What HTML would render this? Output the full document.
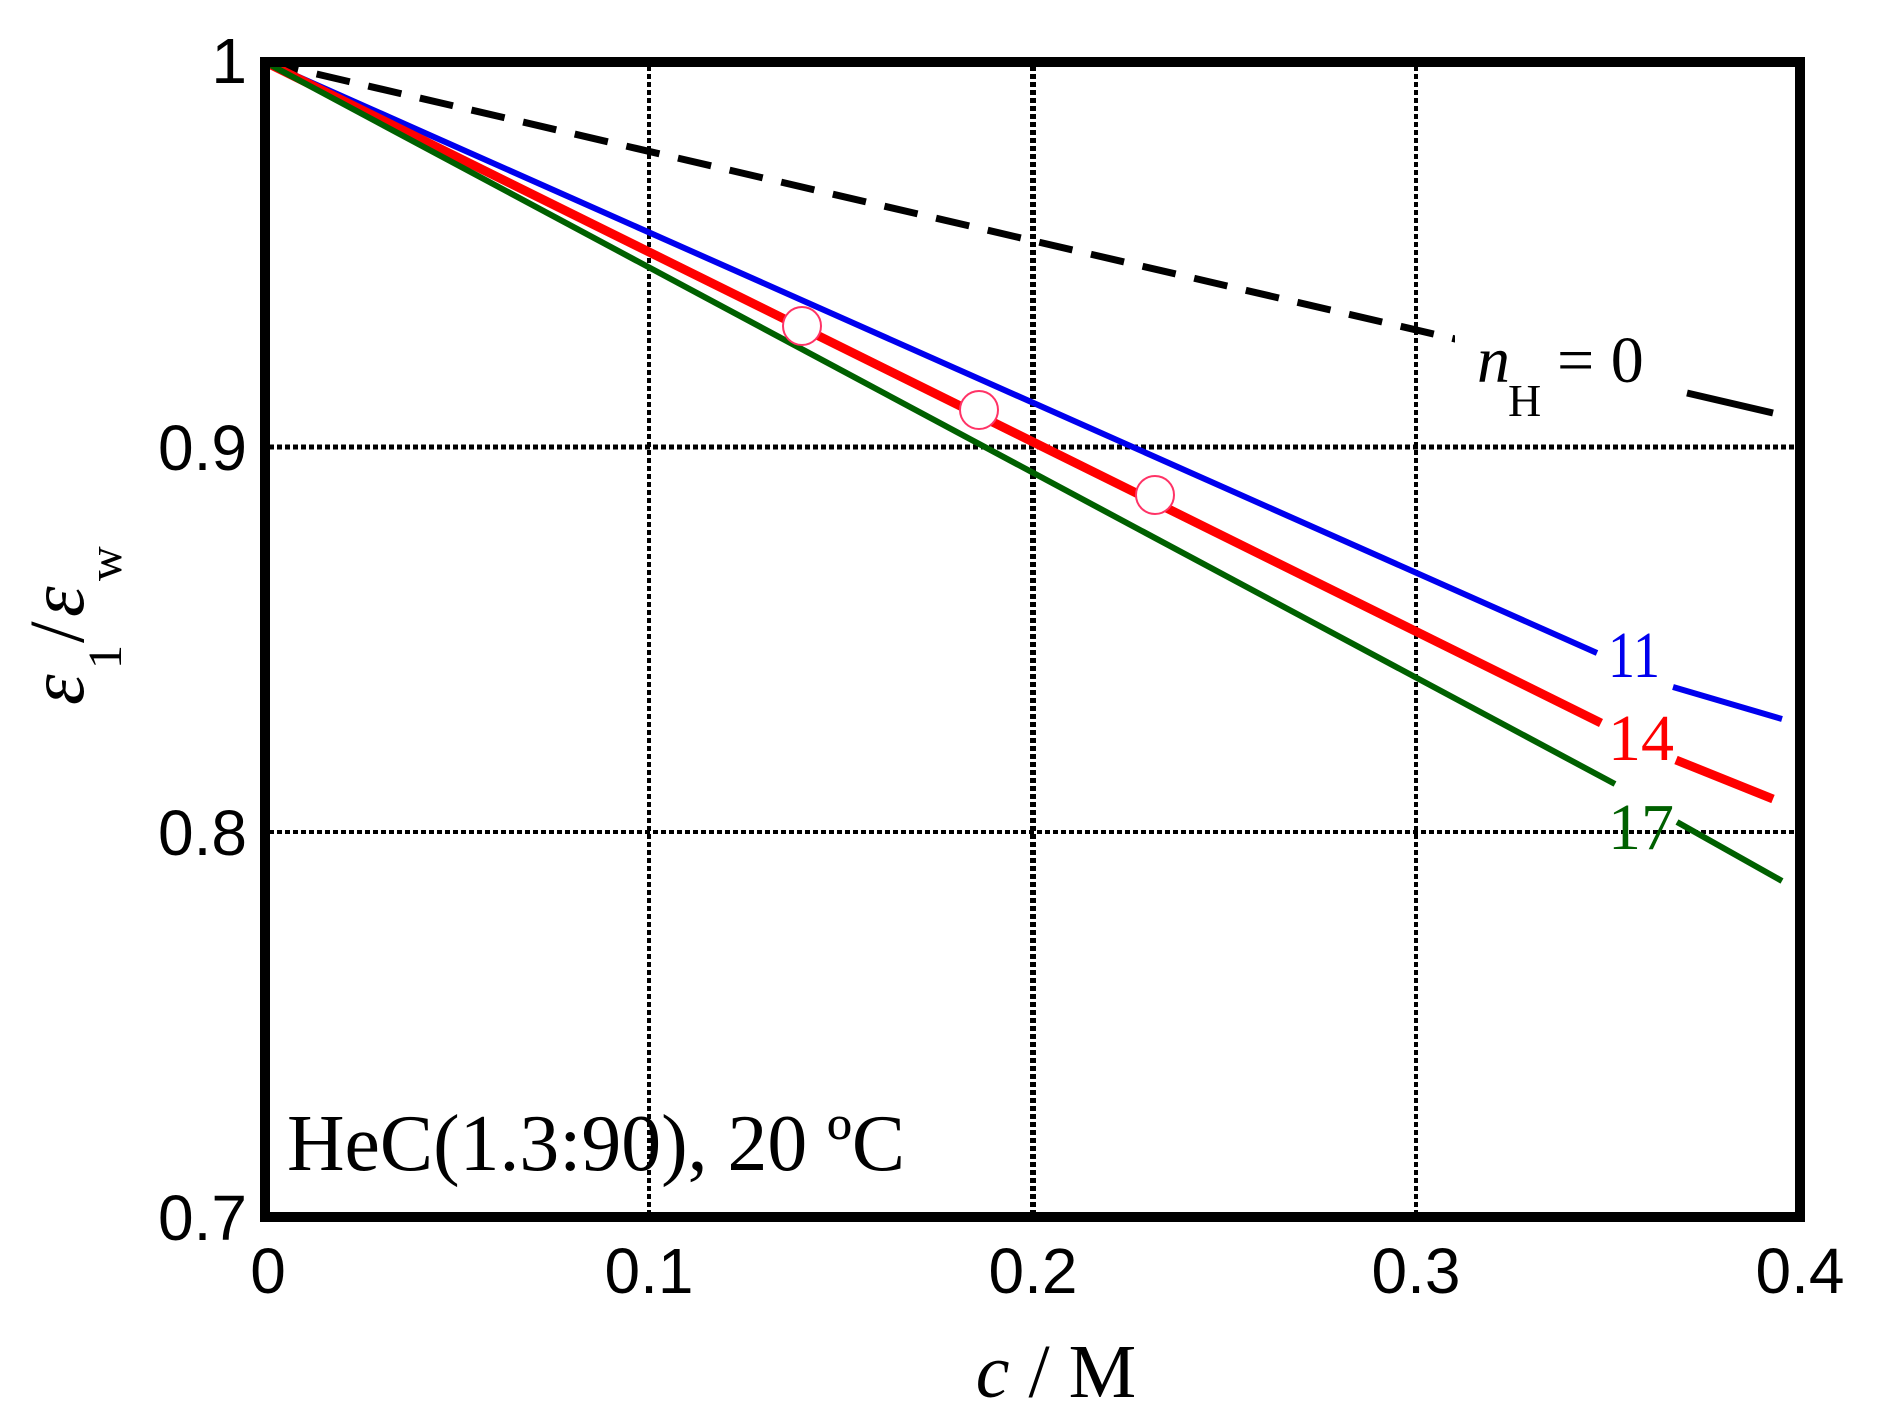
<!DOCTYPE html>
<html><head><meta charset="utf-8"><style>html,body{margin:0;padding:0;background:#fff}</style></head>
<body>
<svg width="1882" height="1412" viewBox="0 0 1882 1412" xmlns="http://www.w3.org/2000/svg">
<rect width="1882" height="1412" fill="#fff"/>
<g stroke="#000" fill="none" stroke-dasharray="5,3">
<line x1="649" y1="66" x2="649" y2="1213" stroke-width="4"/>
<line x1="1033" y1="66" x2="1033" y2="1213" stroke-width="6"/>
<line x1="1416" y1="66" x2="1416" y2="1213" stroke-width="4"/>
<line x1="269" y1="447" x2="1796" y2="447" stroke-width="5"/>
<line x1="269" y1="832" x2="1796" y2="832" stroke-width="4"/>
</g>
<line x1="265" y1="62" x2="1773" y2="413" stroke="#000" stroke-width="7" stroke-dasharray="34,19"/>
<rect x="1455" y="330" width="340" height="100" fill="#fff"/>
<line x1="1687" y1="393" x2="1773" y2="413" stroke="#000" stroke-width="7"/>
<line x1="265" y1="62" x2="1597" y2="653" stroke="#0000ee" stroke-width="6"/>
<line x1="1673" y1="687" x2="1782" y2="719" stroke="#0000ee" stroke-width="6"/>
<line x1="265" y1="62" x2="1601" y2="723" stroke="#ff0000" stroke-width="9"/>
<line x1="1676" y1="760" x2="1773" y2="799" stroke="#ff0000" stroke-width="9"/>
<line x1="265" y1="62" x2="1615" y2="784" stroke="#006000" stroke-width="6"/>
<line x1="1677" y1="822" x2="1782" y2="881" stroke="#006000" stroke-width="6"/>
<g fill="#fff" stroke="#ff3366" stroke-width="2">
<circle cx="802" cy="326" r="19"/><circle cx="979" cy="410" r="19"/><circle cx="1155" cy="495" r="19"/>
</g>
<rect x="265" y="62" width="1535" height="1155" fill="none" stroke="#000" stroke-width="10"/>
<g font-family="Liberation Serif, serif" font-size="66">
<text x="1608" y="677" fill="#0000ee" textLength="52" lengthAdjust="spacingAndGlyphs">11</text>
<text x="1608" y="760" fill="#ff0000">14</text>
<text x="1608" y="849" fill="#006000">17</text>
<text x="1477" y="382" font-style="italic">n</text>
<text x="1508" y="416" font-size="46">H</text>
<text x="1557" y="382">= 0</text>
</g>
<text x="287" y="1170" font-family="Liberation Serif, serif" font-size="80" textLength="618" lengthAdjust="spacingAndGlyphs">HeC(1.3:90), 20 ºC</text>
<g font-family="Liberation Sans, sans-serif" font-size="64" text-anchor="middle">
<text x="268" y="1293">0</text><text x="649" y="1293">0.1</text><text x="1033" y="1293">0.2</text><text x="1416" y="1293">0.3</text><text x="1800" y="1293">0.4</text>
</g>
<g font-family="Liberation Sans, sans-serif" font-size="64" text-anchor="end">
<text x="247" y="83">1</text><text x="247" y="470">0.9</text><text x="247" y="855">0.8</text><text x="247" y="1240">0.7</text>
</g>
<text x="1056" y="1397" font-family="Liberation Serif, serif" font-size="76" text-anchor="middle"><tspan font-style="italic">c</tspan> / M</text>
<g transform="translate(83,705) rotate(-90)" font-family="Liberation Serif, serif" font-size="78">
<text x="0" y="0" font-style="italic">ε</text>
<text x="36" y="38" font-size="48">1</text>
<text x="62" y="0">/</text>
<text x="88" y="0" font-style="italic">ε</text>
<text x="124" y="38" font-size="48">w</text>
</g>
</svg>
</body></html>
